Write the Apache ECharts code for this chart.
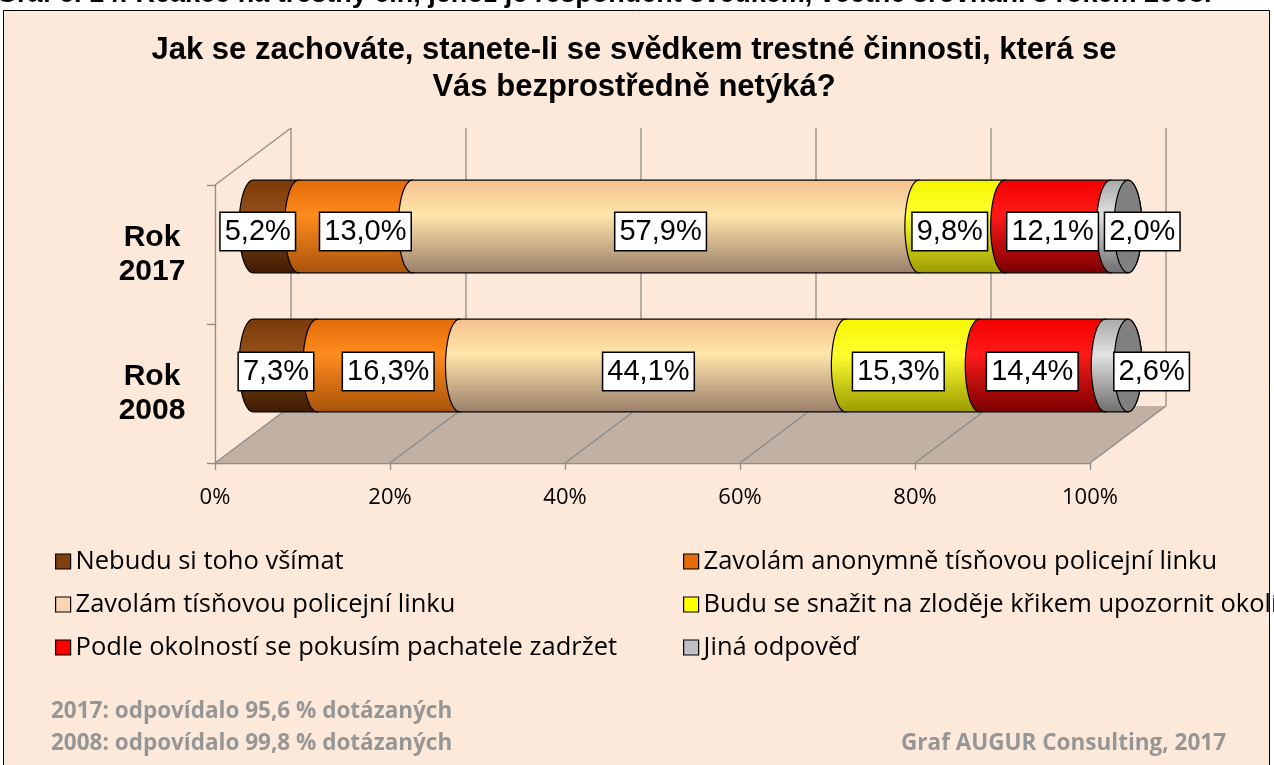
<!DOCTYPE html>
<html>
<head>
<meta charset="utf-8">
<script src="https://cdn.jsdelivr.net/npm/echarts@6/dist/echarts.min.js"></script>
<style>
  html, body { margin: 0; padding: 0; background: #fff; }
  #chart { width: 1274px; height: 765px; }
</style>
</head>
<body>
<div id="chart"></div>
<script>
// data
const years = ['Rok\n2017', 'Rok\n2008'];
const answers = [
  'Nebudu si toho všímat',
  'Zavolám anonymně tísňovou policejní linku',
  'Zavolám tísňovou policejní linku',
  'Budu se snažit na zloděje křikem upozornit okolí',
  'Podle okolností se pokusím pachatele zadržet',
  'Jiná odpověď'
];
const values2017 = [5.2, 13.0, 57.9, 9.8, 12.1, 2.0];
const values2008 = [7.3, 16.3, 44.1, 15.3, 14.4, 2.6];
const xTicks = [0, 20, 40, 60, 80, 100];

// styling
const legendColors = ['#7f3f0f', '#e46c0a', '#fbd4b4', '#ffff00', '#ff0000', '#c0c0c0'];
const barStops = [
  ['#7a3a08', '#94501a', '#3d1a02'],
  ['#e06a08', '#ff8c1e', '#a8520a'],
  ['#f4c08e', '#ffe6aa', '#9a7e6a'],
  ['#f6f600', '#ffff30', '#9a9a00'],
  ['#f20000', '#ff1a1a', '#780000'],
  ['#a8a8a8', '#e2e2e2', '#6e6e6e']
];
// small label nudges, like Excel places them
const labelNudge = [
  [-18, 10, -5, -12, -5, 23],
  [-9, 0, -4, -14, -10, 35]
];
const DX = 76, DY = -57;          // back-wall offset
const BX = 38, BY = -28;          // bar depth offset
const RX = 14;                    // cylinder cap radius

const chart = echarts.init(document.getElementById('chart'));

function cumulative(vals) {
  let s = 0;
  return vals.map(v => { const a = s; s += v; return [a, s]; });
}
const cum = [cumulative(values2017), cumulative(values2008)];

function ellipseArc(cx, cy, rx, ry, a0, a1, n) {
  const pts = [];
  for (let i = 0; i <= n; i++) {
    const a = a0 + (a1 - a0) * i / n;
    pts.push([cx + rx * Math.cos(a), cy + ry * Math.sin(a)]);
  }
  return pts;
}

function renderSegment(si) {
  return function (params, api) {
    const start = api.value(0), end = api.value(1), cat = api.value(2);
    const p0 = api.coord([start, cat]);
    const p1 = api.coord([end, cat]);
    const band = api.size([0, 1])[1];
    const ry = band * 0.333;
    const cy = p0[1] + BY;
    const x0 = p0[0] + BX, x1 = p1[0] + BX;
    let pts = [[x0, cy - ry], [x1, cy - ry]];
    pts = pts.concat(ellipseArc(x1, cy, RX, ry, -Math.PI / 2, Math.PI / 2, 24));
    pts.push([x0, cy + ry]);
    pts = pts.concat(ellipseArc(x0, cy, RX, ry, Math.PI / 2, Math.PI * 1.5, 24));
    const st = barStops[si];
    const children = [{
      type: 'polygon',
      shape: { points: pts },
      style: {
        fill: {
          type: 'linear', x: 0, y: 0, x2: 0, y2: 1,
          colorStops: [{ offset: 0, color: st[0] }, { offset: 0.38, color: st[1] }, { offset: 1, color: st[2] }]
        },
        stroke: '#000', lineWidth: 1.2
      }
    }];
    if (si === answers.length - 1) {
      children.push({
        type: 'polygon',
        shape: { points: ellipseArc(x1, cy, RX, ry, 0, Math.PI * 2, 48) },
        style: { fill: '#808080', stroke: '#000', lineWidth: 1.2 }
      });
    }
    return { type: 'group', children: children };
  };
}

function renderWalls(params, api) {
  const v = api.value(0);
  const cs = params.coordSys;
  const top = cs.y, bottom = cs.y + cs.height;
  const px = api.coord([v, 0])[0];
  const lineStyle = { stroke: '#8c8c8c', lineWidth: 1.3 };
  const children = [];
  if (params.dataIndex === 0) {
    const xl = cs.x, xr = cs.x + cs.width;
    children.push({
      type: 'polygon',
      shape: { points: [[xl, bottom], [xr, bottom], [xr + DX, bottom + DY], [xl + DX, bottom + DY]] },
      style: { fill: '#c0b1a4' }
    });
    children.push({ type: 'line', shape: { x1: xl, y1: top, x2: xl + DX, y2: top + DY }, style: lineStyle });
  }
  children.push({ type: 'line', shape: { x1: px + DX, y1: top + DY, x2: px + DX, y2: bottom + DY }, style: lineStyle });
  children.push({ type: 'line', shape: { x1: px, y1: bottom, x2: px + DX, y2: bottom + DY }, style: lineStyle });
  return { type: 'group', children: children };
}

function renderLabel(params, api) {
  const x = api.value(0), cat = api.value(1), txt = api.value(2), nudge = api.value(3);
  const p = api.coord([x, cat]);
  return {
    type: 'text',
    x: p[0] + BX + nudge,
    y: p[1] + BY + (cat === 0 ? 5 : 6),
    style: {
      text: txt,
      fontSize: 29,
      fontFamily: '"Liberation Sans", Arial, sans-serif',
      fill: '#000',
      align: 'center',
      verticalAlign: 'middle',
      backgroundColor: '#fff',
      borderColor: '#000',
      borderWidth: 1.5,
      padding: [5, 4, 3, 4]
    }
  };
}

const series = [{
  type: 'custom',
  name: 'walls',
  z: 1,
  silent: true,
  renderItem: renderWalls,
  data: xTicks.map(t => [t])
}];
answers.forEach((name, si) => {
  series.push({
    type: 'custom',
    name: name,
    z: 3 + si,
    itemStyle: { color: legendColors[si], borderColor: '#000', borderWidth: 1 },
    renderItem: renderSegment(si),
    encode: { x: [0, 1], y: 2 },
    data: cum.map((c, ci) => [c[si][0], c[si][1], ci])
  });
});
const labelData = [];
[values2017, values2008].forEach((vals, ci) => {
  vals.forEach((v, si) => {
    const c = cum[ci][si];
    labelData.push([(c[0] + c[1]) / 2, ci, v.toFixed(1).replace('.', ',') + '%', labelNudge[ci][si]]);
  });
});
series.push({
  type: 'custom',
  name: 'labels',
  z: 20,
  renderItem: renderLabel,
  encode: { x: 0, y: 1 },
  data: labelData
});

const legendText = { fontSize: 25.5, fontFamily: '"Open Sans", sans-serif', color: '#000', lineHeight: 27 };
const footFont = 'bold 22.5px "Open Sans", sans-serif';
const titleFont = 'bold 31px "Liberation Sans", Arial, sans-serif';
const option = {
  animation: false,
  backgroundColor: '#fff',
  graphic: [
    { type: 'rect', z: -10, shape: { x: 3.5, y: 10.5, width: 1266, height: 770 }, style: { fill: '#fde9d9', stroke: '#000', lineWidth: 1 } },
    { type: 'text', z: 10, x: -4, y: 8, style: { text: 'Graf č. 14: Reakce na trestný čin, jehož je respondent svědkem, včetně srovnání s rokem 2008.', font: 'bold 27px "Liberation Sans", Arial, sans-serif', fill: '#000', verticalAlign: 'bottom' } },
    { type: 'text', z: 10, x: 634, y: 50, style: { text: 'Jak se zachováte, stanete-li se svědkem trestné činnosti, která se', font: titleFont, fill: '#000', align: 'center', verticalAlign: 'middle' } },
    { type: 'text', z: 10, x: 634, y: 87, style: { text: 'Vás bezprostředně netýká?', font: titleFont, fill: '#000', align: 'center', verticalAlign: 'middle' } },
    { type: 'text', z: 10, x: 51, y: 712, style: { text: '2017: odpovídalo 95,6 % dotázaných', font: footFont, fill: '#969696', verticalAlign: 'middle' } },
    { type: 'text', z: 10, x: 51, y: 744, style: { text: '2008: odpovídalo 99,8 % dotázaných', font: footFont, fill: '#969696', verticalAlign: 'middle' } },
    { type: 'text', z: 10, x: 1226, y: 744, style: { text: 'Graf AUGUR Consulting, 2017', font: footFont, fill: '#969696', align: 'right', verticalAlign: 'middle' } }
  ],
  legend: [
    {
      orient: 'vertical', left: 50, top: 543, itemGap: 16, itemWidth: 15, itemHeight: 15, icon: 'rect',
      itemStyle: { borderColor: '#000', borderWidth: 1.2 },
      textStyle: legendText, selectedMode: false,
      data: [answers[0], answers[2], answers[4]]
    },
    {
      orient: 'vertical', left: 678, top: 543, itemGap: 16, itemWidth: 15, itemHeight: 15, icon: 'rect',
      itemStyle: { borderColor: '#000', borderWidth: 1.2 },
      textStyle: legendText, selectedMode: false,
      data: [answers[1], answers[3], answers[5]]
    }
  ],
  grid: { left: 215, right: 184, top: 185, bottom: 302, containLabel: false },
  xAxis: {
    type: 'value', min: 0, max: 100, interval: 20,
    axisLine: { show: true, lineStyle: { color: '#8c8c8c', width: 1.3 } },
    axisTick: { show: true, length: 7, lineStyle: { color: '#8c8c8c', width: 1.3 } },
    splitLine: { show: false },
    axisLabel: { formatter: '{value}%', margin: 24, fontSize: 22, color: '#000', fontFamily: '"Open Sans", sans-serif' }
  },
  yAxis: {
    type: 'category', data: years, inverse: true,
    axisLine: { show: true, lineStyle: { color: '#8c8c8c', width: 1.3 } },
    axisTick: { show: true, length: 8, lineStyle: { color: '#8c8c8c', width: 1.3 } },
    axisLabel: { align: 'center', margin: 63, fontSize: 30, fontWeight: 'bold', lineHeight: 34, color: '#000', fontFamily: '"Liberation Sans", Arial, sans-serif' }
  },
  series: series
};
chart.setOption(option);
</script>
</body>
</html>
